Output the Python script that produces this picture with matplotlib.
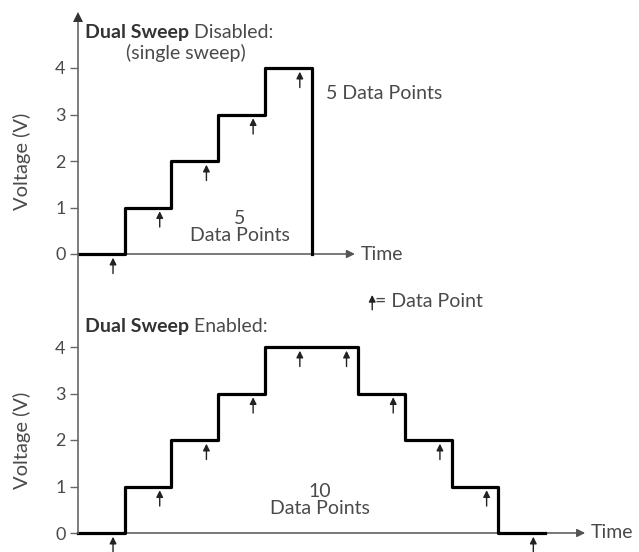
import matplotlib
matplotlib.use('Agg')
import matplotlib.pyplot as plt
from matplotlib.lines import Line2D

# single sweep (dual sweep disabled)
single_t = [0, 1, 2, 3, 4, 5]
single_v = [0, 1, 2, 3, 4, 0]
single_pts = [0, 1, 2, 3, 4]

# dual sweep enabled
dual_t = [0, 1, 2, 3, 4, 5, 6, 7, 8, 9, 10]
dual_v = [0, 1, 2, 3, 4, 4, 3, 2, 1, 0, 0]
dual_pts = [0, 1, 2, 3, 4, 4, 3, 2, 1, 0]

yticks = [0, 1, 2, 3, 4]

plt.rcParams['font.family'] = 'Lato'
txt = '#4a4a4a'
axc = '#666666'
fs = 14

W, H = 639, 552
fig = plt.figure(figsize=(W / 100, H / 100), dpi=100)

px_x = 46.7   # pixels per time step
px_y = 46.5   # pixels per volt
x0 = 78
xr = 620

def make_axes(top_px, bot_px, zero_px):
    ax = fig.add_axes([x0 / W, (H - bot_px) / H, (xr - x0) / W, (bot_px - top_px) / H])
    ax.set_xlim(0, (xr - x0) / px_x)
    ax.set_ylim((zero_px - bot_px) / px_y, (zero_px - top_px) / px_y)
    for s in ['top', 'right', 'bottom', 'left']:
        ax.spines[s].set_visible(False)
    ax.set_xticks([])
    ax.set_yticks(yticks)
    ax.tick_params(axis='y', length=6, width=1, color=axc, labelsize=13, labelcolor=txt, pad=3)
    ax.set_ylabel('Voltage (V)', fontsize=14.5, color=txt)
    ylo, yhi = ax.get_ylim()
    ax.yaxis.set_label_coords(-0.086, (2 - ylo) / (yhi - ylo))
    ax.patch.set_alpha(0)
    return ax

def data_arrow(ax, t, v):
    ax.annotate('', xy=(t, v - 0.08), xytext=(t, v - 0.42),
                arrowprops=dict(arrowstyle='-|>', lw=1, color='#222222',
                                mutation_scale=10, shrinkA=0, shrinkB=0),
                annotation_clip=False)

def time_axis(ax, tip):
    ax.annotate('', xy=(tip, 0), xytext=(0, 0),
                arrowprops=dict(arrowstyle='-|>', lw=1.1, color='#555555',
                                mutation_scale=12, shrinkA=0, shrinkB=0),
                annotation_clip=False)
    ax.text(tip + 0.13, 0, 'Time', fontsize=fs, color=txt, va='center', ha='left')

def title(ax, x, y, rest):
    t1 = ax.text(x, y, 'Dual Sweep', fontsize=fs, fontweight='bold', color='#333333',
                 va='baseline', ha='left')
    ax.annotate(' ' + rest, xy=(1, 0), xycoords=t1, va='bottom', ha='left',
                fontsize=fs, color=txt)

# continuous voltage axis through both panels
fig.add_artist(Line2D([x0 / W, x0 / W], [(H - 533) / H, (H - 20) / H],
                      color=axc, lw=1.2))
fig.add_artist(Line2D([x0 / W], [(H - 17) / H], marker='^', ms=7,
                      color='#333333', mew=0))

# ---- top panel ----
ax1 = make_axes(12, 290, 254)
time_axis(ax1, 5.93)
ax1.step(single_t, single_v, where='post', color='black', lw=2.3, zorder=3)
for i, v in enumerate(single_pts):
    data_arrow(ax1, i + 0.75, v)
title(ax1, 0.15, 4.64, 'Disabled:')
ax1.text(2.3, 4.33, '(single sweep)', fontsize=fs, color=txt, ha='center', va='center')
ax1.text(5.3, 3.45, '5 Data Points', fontsize=fs, color=txt, ha='left', va='center')
ax1.text(3.47, 0.58, '5\nData Points', fontsize=fs, color=txt, ha='center', va='center',
         linespacing=1.0)

# legend for the data point arrow
ax1.annotate('', xy=(6.3, -0.88), xytext=(6.3, -1.2),
             arrowprops=dict(arrowstyle='-|>', lw=1, color='#222222',
                             mutation_scale=10, shrinkA=0, shrinkB=0),
             annotation_clip=False)
ax1.text(6.36, -1.03, '= Data Point', fontsize=fs, color=txt, ha='left', va='center')

# ---- bottom panel ----
ax2 = make_axes(290, 533, 533)
time_axis(ax2, 10.86)
ax2.step(dual_t, dual_v, where='post', color='black', lw=2.3, zorder=3, clip_on=False)
for i, v in enumerate(dual_pts):
    data_arrow(ax2, i + 0.75, v)
title(ax2, 0.15, 4.32, 'Enabled:')
ax2.text(5.18, 0.7, '10\nData Points', fontsize=fs, color=txt, ha='center', va='center',
         linespacing=1.0)

fig.savefig('out.png', dpi=100)
